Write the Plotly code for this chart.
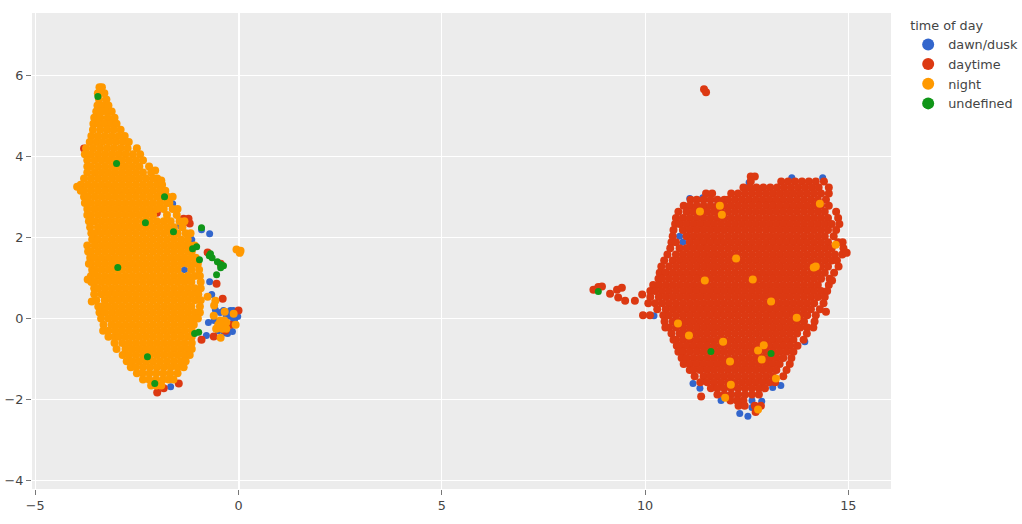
import plotly.graph_objects as go

# colours and legend names
names = ["dawn/dusk", "daytime", "night", "undefined"]
colors = ["#3366CC", "#DC3912", "#FF9900", "#109618"]

# the two big clusters are solid, single points inside them can't be read,
# so these are estimated by eye row by row: (y, [x, x, ...])
night_rows = [
(5.70,[-3.42,-3.36]),
(5.55,[-3.46,-3.30]),
(5.40,[-3.43,-3.25]),
(5.25,[-3.47,-3.33,-3.20]),
(5.10,[-3.50,-3.36,-3.24,-3.12]),
(4.95,[-3.55,-3.40,-3.22,-3.05]),
(4.80,[-3.57,-3.44,-3.29,-3.13,-3.00]),
(4.65,[-3.58,-3.40,-3.23,-3.07,-2.90]),
(4.50,[-3.62,-3.46,-3.29,-3.12,-2.95,-2.80]),
(4.35,[-3.66,-3.50,-3.35,-3.18,-3.02,-2.85,-2.70]),
(4.20,[-3.75,-3.58,-3.41,-3.24,-3.07,-2.90,-2.73,-2.50]),
(4.05,[-3.78,-3.63,-3.46,-3.29,-3.12,-2.95,-2.78,-2.60,-2.42]),
(3.90,[-3.72,-3.54,-3.37,-3.20,-3.03,-2.86,-2.69,-2.52,-2.35]),
(3.75,[-3.72,-3.63,-3.46,-3.29,-3.12,-2.95,-2.78,-2.61,-2.44,-2.20]),
(3.60,[-3.72,-3.54,-3.37,-3.20,-3.03,-2.86,-2.69,-2.52,-2.35,-2.15]),
(3.45,[-3.80,-3.63,-3.46,-3.29,-3.12,-2.95,-2.78,-2.61,-2.44,-2.27,-2.10,-2.00]),
(3.30,[-3.88,-3.71,-3.54,-3.37,-3.20,-3.03,-2.86,-2.69,-2.52,-2.35,-2.18,-2.01,-1.88]),
(3.15,[-3.88,-3.80,-3.63,-3.46,-3.29,-3.12,-2.95,-2.78,-2.61,-2.44,-2.27,-2.10,-1.93,-1.80]),
(3.00,[-3.80,-3.71,-3.54,-3.37,-3.20,-3.03,-2.86,-2.69,-2.52,-2.35,-2.18,-2.01,-1.84,-1.75]),
(2.85,[-3.78,-3.63,-3.46,-3.29,-3.12,-2.95,-2.78,-2.61,-2.44,-2.27,-2.10,-1.93,-1.76,-1.70]),
(2.70,[-3.72,-3.54,-3.37,-3.20,-3.03,-2.86,-2.69,-2.52,-2.35,-2.18,-2.01,-1.84,-1.62]),
(2.55,[-3.72,-3.63,-3.46,-3.29,-3.12,-2.95,-2.78,-2.61,-2.44,-2.27,-2.10,-1.76,-1.52]),
(2.40,[-3.68,-3.54,-3.37,-3.20,-3.03,-2.86,-2.69,-2.52,-2.35,-2.18,-2.01,-1.84,-1.67,-1.45]),
(2.25,[-3.65,-3.46,-3.29,-3.12,-2.95,-2.78,-2.61,-2.44,-2.27,-2.10,-1.93,-1.76,-1.59,-1.38]),
(2.10,[-3.62,-3.54,-3.37,-3.20,-3.03,-2.86,-2.69,-2.52,-2.35,-2.18,-2.01,-1.84,-1.67,-1.50,-1.30]),
(1.95,[-3.60,-3.46,-3.29,-3.12,-2.95,-2.78,-2.61,-2.44,-2.27,-2.10,-1.93,-1.76,-1.59,-1.42,-1.25]),
(1.80,[-3.72,-3.54,-3.37,-3.20,-3.03,-2.86,-2.69,-2.52,-2.35,-2.18,-2.01,-1.84,-1.67,-1.50,-1.33,-1.20]),
(1.65,[-3.70,-3.63,-3.46,-3.29,-3.12,-2.95,-2.78,-2.61,-2.44,-2.27,-2.10,-1.93,-1.76,-1.59,-1.42,-1.25,-1.15]),
(1.50,[-3.65,-3.54,-3.37,-3.20,-3.03,-2.86,-2.69,-2.52,-2.35,-2.18,-2.01,-1.84,-1.67,-1.50,-1.33,-1.16,-1.05]),
(1.35,[-3.63,-3.46,-3.29,-3.12,-2.95,-2.78,-2.61,-2.44,-2.27,-2.10,-1.93,-1.76,-1.59,-1.42,-1.25,-1.08,-1.00]),
(1.20,[-3.60,-3.54,-3.37,-3.20,-3.03,-2.86,-2.69,-2.52,-2.35,-2.18,-2.01,-1.84,-1.67,-1.50,-1.16,-0.97]),
(1.05,[-3.63,-3.46,-3.29,-3.12,-2.95,-2.78,-2.61,-2.44,-2.27,-2.10,-1.93,-1.76,-1.59,-1.42,-1.25,-1.08,-0.95]),
(0.90,[-3.62,-3.54,-3.37,-3.20,-3.03,-2.86,-2.69,-2.52,-2.35,-2.18,-2.01,-1.84,-1.67,-1.50,-1.33,-1.16,-0.93]),
(0.75,[-3.55,-3.46,-3.29,-3.12,-2.95,-2.78,-2.61,-2.44,-2.27,-2.10,-1.93,-1.76,-1.59,-1.42,-1.25,-1.08,-0.93]),
(0.60,[-3.55,-3.37,-3.20,-3.03,-2.86,-2.69,-2.52,-2.35,-2.18,-2.01,-1.84,-1.67,-1.50,-1.33,-1.16,-0.99]),
(0.45,[-3.50,-3.29,-3.12,-2.95,-2.78,-2.61,-2.44,-2.27,-2.10,-1.93,-1.76,-1.59,-1.42,-1.25,-1.08,-0.93]),
(0.30,[-3.45,-3.37,-3.20,-3.03,-2.86,-2.69,-2.52,-2.35,-2.18,-2.01,-1.84,-1.67,-1.50,-1.33,-1.16,-0.95]),
(0.15,[-3.42,-3.29,-3.12,-2.95,-2.78,-2.61,-2.44,-2.27,-2.10,-1.93,-1.76,-1.59,-1.42,-1.25,-1.08,-0.95]),
(0.00,[-3.38,-3.20,-3.03,-2.86,-2.69,-2.52,-2.35,-2.18,-2.01,-1.84,-1.67,-1.50,-1.33,-1.16,-1.00]),
(-0.15,[-3.32,-3.12,-2.95,-2.78,-2.61,-2.44,-2.27,-2.10,-1.93,-1.76,-1.59,-1.42,-1.25,-1.10]),
(-0.30,[-3.33,-3.20,-3.03,-2.86,-2.69,-2.52,-2.35,-2.18,-2.01,-1.84,-1.67,-1.50,-1.33,-1.15]),
(-0.45,[-3.20,-3.05,-2.95,-2.78,-2.61,-2.44,-2.27,-2.10,-1.93,-1.76,-1.59,-1.42,-1.25,-1.15]),
(-0.60,[-3.05,-2.86,-2.69,-2.52,-2.35,-2.18,-2.01,-1.84,-1.67,-1.50,-1.33,-1.15]),
(-0.75,[-3.00,-2.78,-2.61,-2.44,-2.27,-2.10,-1.93,-1.76,-1.59,-1.42,-1.25,-1.15]),
(-0.90,[-2.85,-2.69,-2.52,-2.35,-2.18,-2.01,-1.84,-1.67,-1.50,-1.33,-1.20]),
(-1.05,[-2.75,-2.61,-2.44,-2.27,-2.10,-1.93,-1.76,-1.59,-1.42,-1.30]),
(-1.20,[-2.65,-2.52,-2.35,-2.18,-2.01,-1.84,-1.67,-1.50,-1.35]),
(-1.35,[-2.50,-2.36,-2.19,-2.02,-1.85,-1.68,-1.50]),
(-1.50,[-2.35,-2.20,-2.03,-1.86,-1.72,-1.60]),
(-1.65,[-2.15,-2.02,-1.90]),
]
night_x = [0.05,-0.05,0.03,-0.39,-0.50,-0.30,-0.40,-0.45,-0.55,-0.30,-0.12,-0.34,-0.07,-0.61,-0.44,-0.76,-0.57,-0.60,-0.35,-0.45,
           -3.97,-3.68,-3.56,-3.71,-3.61,-1.62,-1.50,-1.33,-1.18,-1.08,-2.05,-1.90,
           11.35,11.84,11.89,14.30,14.69,12.24,14.15,14.20,11.47,12.65,13.10,10.81,13.73,11.08,11.92,12.92,12.78,12.09,12.87,13.22,12.11,11.97,12.78]
night_y = [1.67,1.70,1.62,-0.12,-0.15,-0.10,-0.25,-0.05,-0.25,-0.25,0.12,0.17,-0.15,0.07,-0.47,0.54,0.44,0.32,-0.05,-0.15,
           3.25,1.35,1.13,0.96,0.42,3.00,2.70,2.40,2.10,1.80,3.65,3.40,
           2.64,2.78,2.56,2.83,1.82,1.48,1.26,1.28,0.94,0.96,0.42,-0.12,0.02,-0.42,-0.57,-0.66,-0.79,-1.06,-1.01,-1.48,-1.63,-1.95,-2.24]

daytime_rows = [
(3.50,[12.60,12.70]),
(3.38,[12.60,13.35,13.52,13.69,13.86,14.03,14.20,14.40]),
(3.23,[12.42,12.57,12.74,12.91,13.08,13.25,13.42,13.59,13.76,13.93,14.10,14.27,14.52]),
(3.08,[11.50,11.65,12.12,12.29,12.46,12.63,12.80,12.97,13.14,13.31,13.48,13.65,13.82,13.99,14.16,14.33,14.52]),
(2.93,[11.12,11.27,11.44,11.61,11.78,11.95,12.04,12.21,12.38,12.55,12.72,12.89,13.06,13.23,13.40,13.57,13.74,13.91,14.08,14.25,14.45]),
(2.78,[10.95,11.10,11.27,11.44,11.61,11.78,11.95,12.12,12.29,12.46,12.63,12.80,12.97,13.14,13.31,13.48,13.65,13.82,13.99,14.16,14.33,14.52]),
(2.63,[10.82,11.02,11.19,11.36,11.53,11.70,11.87,12.04,12.21,12.38,12.55,12.72,12.89,13.06,13.23,13.40,13.57,13.74,13.91,14.08,14.25,14.42,14.70]),
(2.48,[10.76,10.93,11.10,11.27,11.44,11.61,11.78,11.95,12.12,12.29,12.46,12.63,12.80,12.97,13.14,13.31,13.48,13.65,13.82,13.99,14.16,14.33,14.50,14.75]),
(2.33,[10.74,10.85,11.02,11.19,11.36,11.53,11.70,11.87,12.04,12.21,12.38,12.55,12.72,12.89,13.06,13.23,13.40,13.57,13.74,13.91,14.08,14.25,14.42,14.59,14.78]),
(2.18,[10.70,10.93,11.10,11.27,11.44,11.61,11.78,11.95,12.12,12.29,12.46,12.63,12.80,12.97,13.14,13.31,13.48,13.65,13.82,13.99,14.16,14.33,14.50,14.70]),
(2.03,[10.68,11.02,11.19,11.36,11.53,11.70,11.87,12.04,12.21,12.38,12.55,12.72,12.89,13.06,13.23,13.40,13.57,13.74,13.91,14.08,14.25,14.42,14.64]),
(1.88,[10.65,10.76,11.10,11.27,11.44,11.61,11.78,11.95,12.12,12.29,12.46,12.63,12.80,12.97,13.14,13.31,13.48,13.65,13.82,13.99,14.16,14.33,14.50,14.75,14.86]),
(1.73,[10.62,10.85,11.02,11.19,11.36,11.53,11.70,11.87,12.04,12.21,12.38,12.55,12.72,12.89,13.06,13.23,13.40,13.57,13.74,13.91,14.08,14.25,14.42,14.59,14.88]),
(1.58,[10.55,10.76,10.93,11.10,11.27,11.44,11.61,11.78,11.95,12.12,12.29,12.46,12.63,12.80,12.97,13.14,13.31,13.48,13.65,13.82,13.99,14.16,14.33,14.50,14.67,14.85]),
(1.43,[10.47,10.68,10.85,11.02,11.19,11.36,11.53,11.70,11.87,12.04,12.21,12.38,12.55,12.72,12.89,13.06,13.23,13.40,13.57,13.74,13.91,14.08,14.25,14.42,14.59,14.72]),
(1.28,[10.40,10.59,10.76,10.93,11.10,11.27,11.44,11.61,11.78,11.95,12.12,12.29,12.46,12.63,12.80,12.97,13.14,13.31,13.48,13.65,13.82,13.99,14.16,14.33,14.50,14.76]),
(1.13,[10.36,10.51,10.68,10.85,11.02,11.19,11.36,11.53,11.70,11.87,12.04,12.21,12.38,12.55,12.72,12.89,13.06,13.23,13.40,13.57,13.74,13.91,14.08,14.25,14.42,14.65]),
(0.98,[10.33,10.42,10.59,10.76,10.93,11.10,11.27,11.44,11.61,11.78,11.95,12.12,12.29,12.46,12.63,12.80,12.97,13.14,13.31,13.48,13.65,13.82,13.99,14.16,14.33,14.54]),
(0.83,[10.20,10.34,10.51,10.68,10.85,11.02,11.19,11.36,11.53,11.70,11.87,12.04,12.21,12.38,12.55,12.72,12.89,13.06,13.23,13.40,13.57,13.74,13.91,14.08,14.25,14.52]),
(0.68,[10.13,10.25,10.42,10.59,10.76,10.93,11.10,11.27,11.44,11.61,11.78,11.95,12.12,12.29,12.46,12.63,12.80,12.97,13.14,13.31,13.48,13.65,13.82,13.99,14.16,14.33,14.48]),
(0.53,[10.13,10.34,10.51,10.68,10.85,11.02,11.19,11.36,11.53,11.70,11.87,12.04,12.21,12.38,12.55,12.72,12.89,13.06,13.23,13.40,13.57,13.74,13.91,14.08,14.25,14.42]),
(0.38,[10.08,10.25,10.42,10.59,10.76,10.93,11.10,11.27,11.44,11.61,11.78,11.95,12.12,12.29,12.46,12.63,12.80,12.97,13.14,13.31,13.48,13.65,13.82,13.99,14.16,14.39]),
(0.23,[10.30,10.51,10.68,10.85,11.02,11.19,11.36,11.53,11.70,11.87,12.04,12.21,12.38,12.55,12.72,12.89,13.06,13.23,13.40,13.57,13.74,13.91,14.08,14.30]),
(0.08,[9.95,10.12,10.45,10.59,10.76,10.93,11.10,11.27,11.44,11.61,11.78,11.95,12.12,12.29,12.46,12.63,12.80,12.97,13.14,13.31,13.48,13.65,13.82,13.99,14.20]),
(-0.07,[10.48,10.68,10.85,11.02,11.19,11.36,11.53,11.70,11.87,12.04,12.21,12.38,12.55,12.72,12.89,13.06,13.23,13.40,13.57,13.74,13.91,14.17]),
(-0.22,[10.50,10.59,10.76,10.93,11.10,11.27,11.44,11.61,11.78,11.95,12.12,12.29,12.46,12.63,12.80,12.97,13.14,13.31,13.48,13.65,13.82,13.99,14.14]),
(-0.37,[10.65,10.85,11.02,11.19,11.36,11.53,11.70,11.87,12.04,12.21,12.38,12.55,12.72,12.89,13.06,13.23,13.40,13.57,13.74,13.98]),
(-0.52,[10.70,10.76,10.93,11.10,11.27,11.44,11.61,11.78,11.95,12.12,12.29,12.46,12.63,12.80,12.97,13.14,13.31,13.48,13.65,13.90]),
(-0.67,[10.78,10.85,11.02,11.19,11.36,11.53,11.70,11.87,12.04,12.21,12.38,12.55,12.72,12.89,13.06,13.23,13.40,13.57,13.75]),
(-0.82,[10.82,10.93,11.10,11.27,11.44,11.61,11.78,11.95,12.12,12.29,12.46,12.63,12.80,12.97,13.14,13.31,13.48,13.65]),
(-0.97,[10.90,11.02,11.19,11.36,11.53,11.70,11.87,12.04,12.21,12.38,12.55,12.72,12.89,13.06,13.23,13.40,13.60]),
(-1.12,[10.95,11.10,11.27,11.44,11.61,11.78,11.95,12.12,12.29,12.46,12.63,12.80,12.97,13.14,13.31,13.56]),
(-1.27,[11.10,11.19,11.36,11.53,11.70,11.87,12.04,12.21,12.38,12.55,12.72,12.89,13.06,13.23,13.48]),
(-1.42,[11.22,11.44,11.61,11.78,11.95,12.12,12.29,12.46,12.63,12.80,12.97,13.14,13.40]),
(-1.57,[11.36,11.53,11.70,11.87,12.04,12.21,12.38,12.55,12.72,12.89,13.06,13.20]),
(-1.72,[11.62,11.78,11.95,12.12,12.29,12.46,12.63,12.80,12.95]),
(-1.87,[11.78,11.95,12.12,12.29,12.46,12.63,12.80]),
(-2.02,[12.10,12.26,12.42]),
(-2.15,[12.30,12.45,12.70,12.85]),
(-2.30,[12.72]),
]
daytime_x = [-3.80,-1.23,-1.35,-1.20,-2.01,-2.00,-1.84,-1.47,-0.54,-0.39,0.00,-0.91,-0.61,-0.76,-0.44,-0.20,-1.38,-0.32,
             11.45,11.50,8.73,8.85,8.94,9.14,9.31,9.43,9.34,9.51,9.75,9.93,11.38,14.45,14.60,14.96]
daytime_y = [4.19,2.46,2.46,2.34,2.61,-1.82,-1.72,-1.60,0.86,0.49,0.20,-0.52,-0.44,1.63,1.35,-0.15,1.40,-0.30,
             5.65,5.58,0.71,0.78,0.79,0.61,0.71,0.76,0.52,0.44,0.44,0.59,-1.92,0.17,0.94,1.62]

dawn_x = [-0.37,-0.13,-0.02,-0.22,-0.74,-0.57,-0.27,-0.79,-0.66,-0.71,-1.67,-1.15,-0.71,-0.91,-1.43,-1.18,-1.62,-0.10,-0.30,-0.50,-0.15,-1.33,-0.20,-0.05,-0.12,-0.30,-0.45,-0.60,-0.35,
          11.35,11.87,12.33,12.53,12.63,12.87,12.63,13.14,13.34,10.37,10.22,11.18,13.93,11.10,11.42,12.56,13.61,14.37,10.85,10.93]
dawn_y = [0.20,0.20,0.05,0.06,-0.10,0.22,-0.37,-0.42,0.59,0.91,-1.68,1.94,2.09,2.19,2.29,1.97,2.83,-0.05,-0.28,-0.30,-0.32,1.20,0.20,0.15,-0.02,0.05,0.15,-0.05,-0.35,
          -1.72,-2.02,-2.34,-2.41,-2.02,-2.04,-2.19,-1.70,-1.65,1.13,0.07,-1.60,-0.57,2.96,2.98,3.35,3.47,3.47,2.03,1.88]

undefined_x = [-3.46,-3.00,-1.82,-2.29,-1.60,-0.91,-2.97,-1.13,-1.03,-0.96,-0.69,-0.72,-0.65,-0.52,-0.44,-0.37,-0.44,-0.54,-1.08,-0.98,-2.24,-2.06,8.85,11.62,13.10]
undefined_y = [5.47,3.82,3.00,2.36,2.14,2.24,1.26,1.72,1.77,1.45,1.60,1.55,1.50,1.40,1.33,1.30,1.25,1.08,-0.37,-0.34,-0.94,-1.60,0.67,-0.81,-0.86]

x_ticks = [-5, 0, 5, 10, 15]
y_ticks = [-4, -2, 0, 2, 4, 6]


def flatten(rows, extra_x, extra_y):
    xs, ys = [], []
    for y, row in rows:
        for x in row:
            xs.append(x)
            ys.append(y)
    return xs + extra_x, ys + extra_y


night_all = flatten(night_rows, night_x, night_y)
daytime_all = flatten(daytime_rows, daytime_x, daytime_y)

series = [(dawn_x, dawn_y), daytime_all, night_all, (undefined_x, undefined_y)]
sizes = [7, 8, 8, 7]

fig = go.Figure()
for name, color, size, (xs, ys) in zip(names, colors, sizes, series):
    fig.add_trace(go.Scatter(x=xs, y=ys, mode="markers", name=name,
                             marker=dict(color=color, size=size)))

fig.update_layout(
    width=1022, height=524,
    margin=dict(l=32, r=131, t=13, b=35, autoexpand=False),
    plot_bgcolor="#ECECEC", paper_bgcolor="white",
    font=dict(family="DejaVu Sans", size=12.8, color="#444"),
    legend=dict(title=dict(text="time of day", font=dict(size=12.8)), itemsizing="constant", x=1.02, y=1),
)
fig.update_xaxes(range=[-5.08, 16.05], tickvals=x_ticks, ticks="outside", ticklen=5, tickcolor="#777", automargin=False,
                 gridcolor="white", zeroline=True, zerolinecolor="white", zerolinewidth=2, showline=False)
fig.update_yaxes(range=[-4.2, 7.53], tickvals=y_ticks, ticks="outside", ticklen=5, tickcolor="#777", automargin=False,
                 gridcolor="white", zeroline=True, zerolinecolor="white", zerolinewidth=1, showline=False)

# drop the page's default 8px body margin so the figure sits at 0,0
fig.write_html("out.html", config={"displayModeBar": False},
               post_script="document.body.style.margin = '0';")
